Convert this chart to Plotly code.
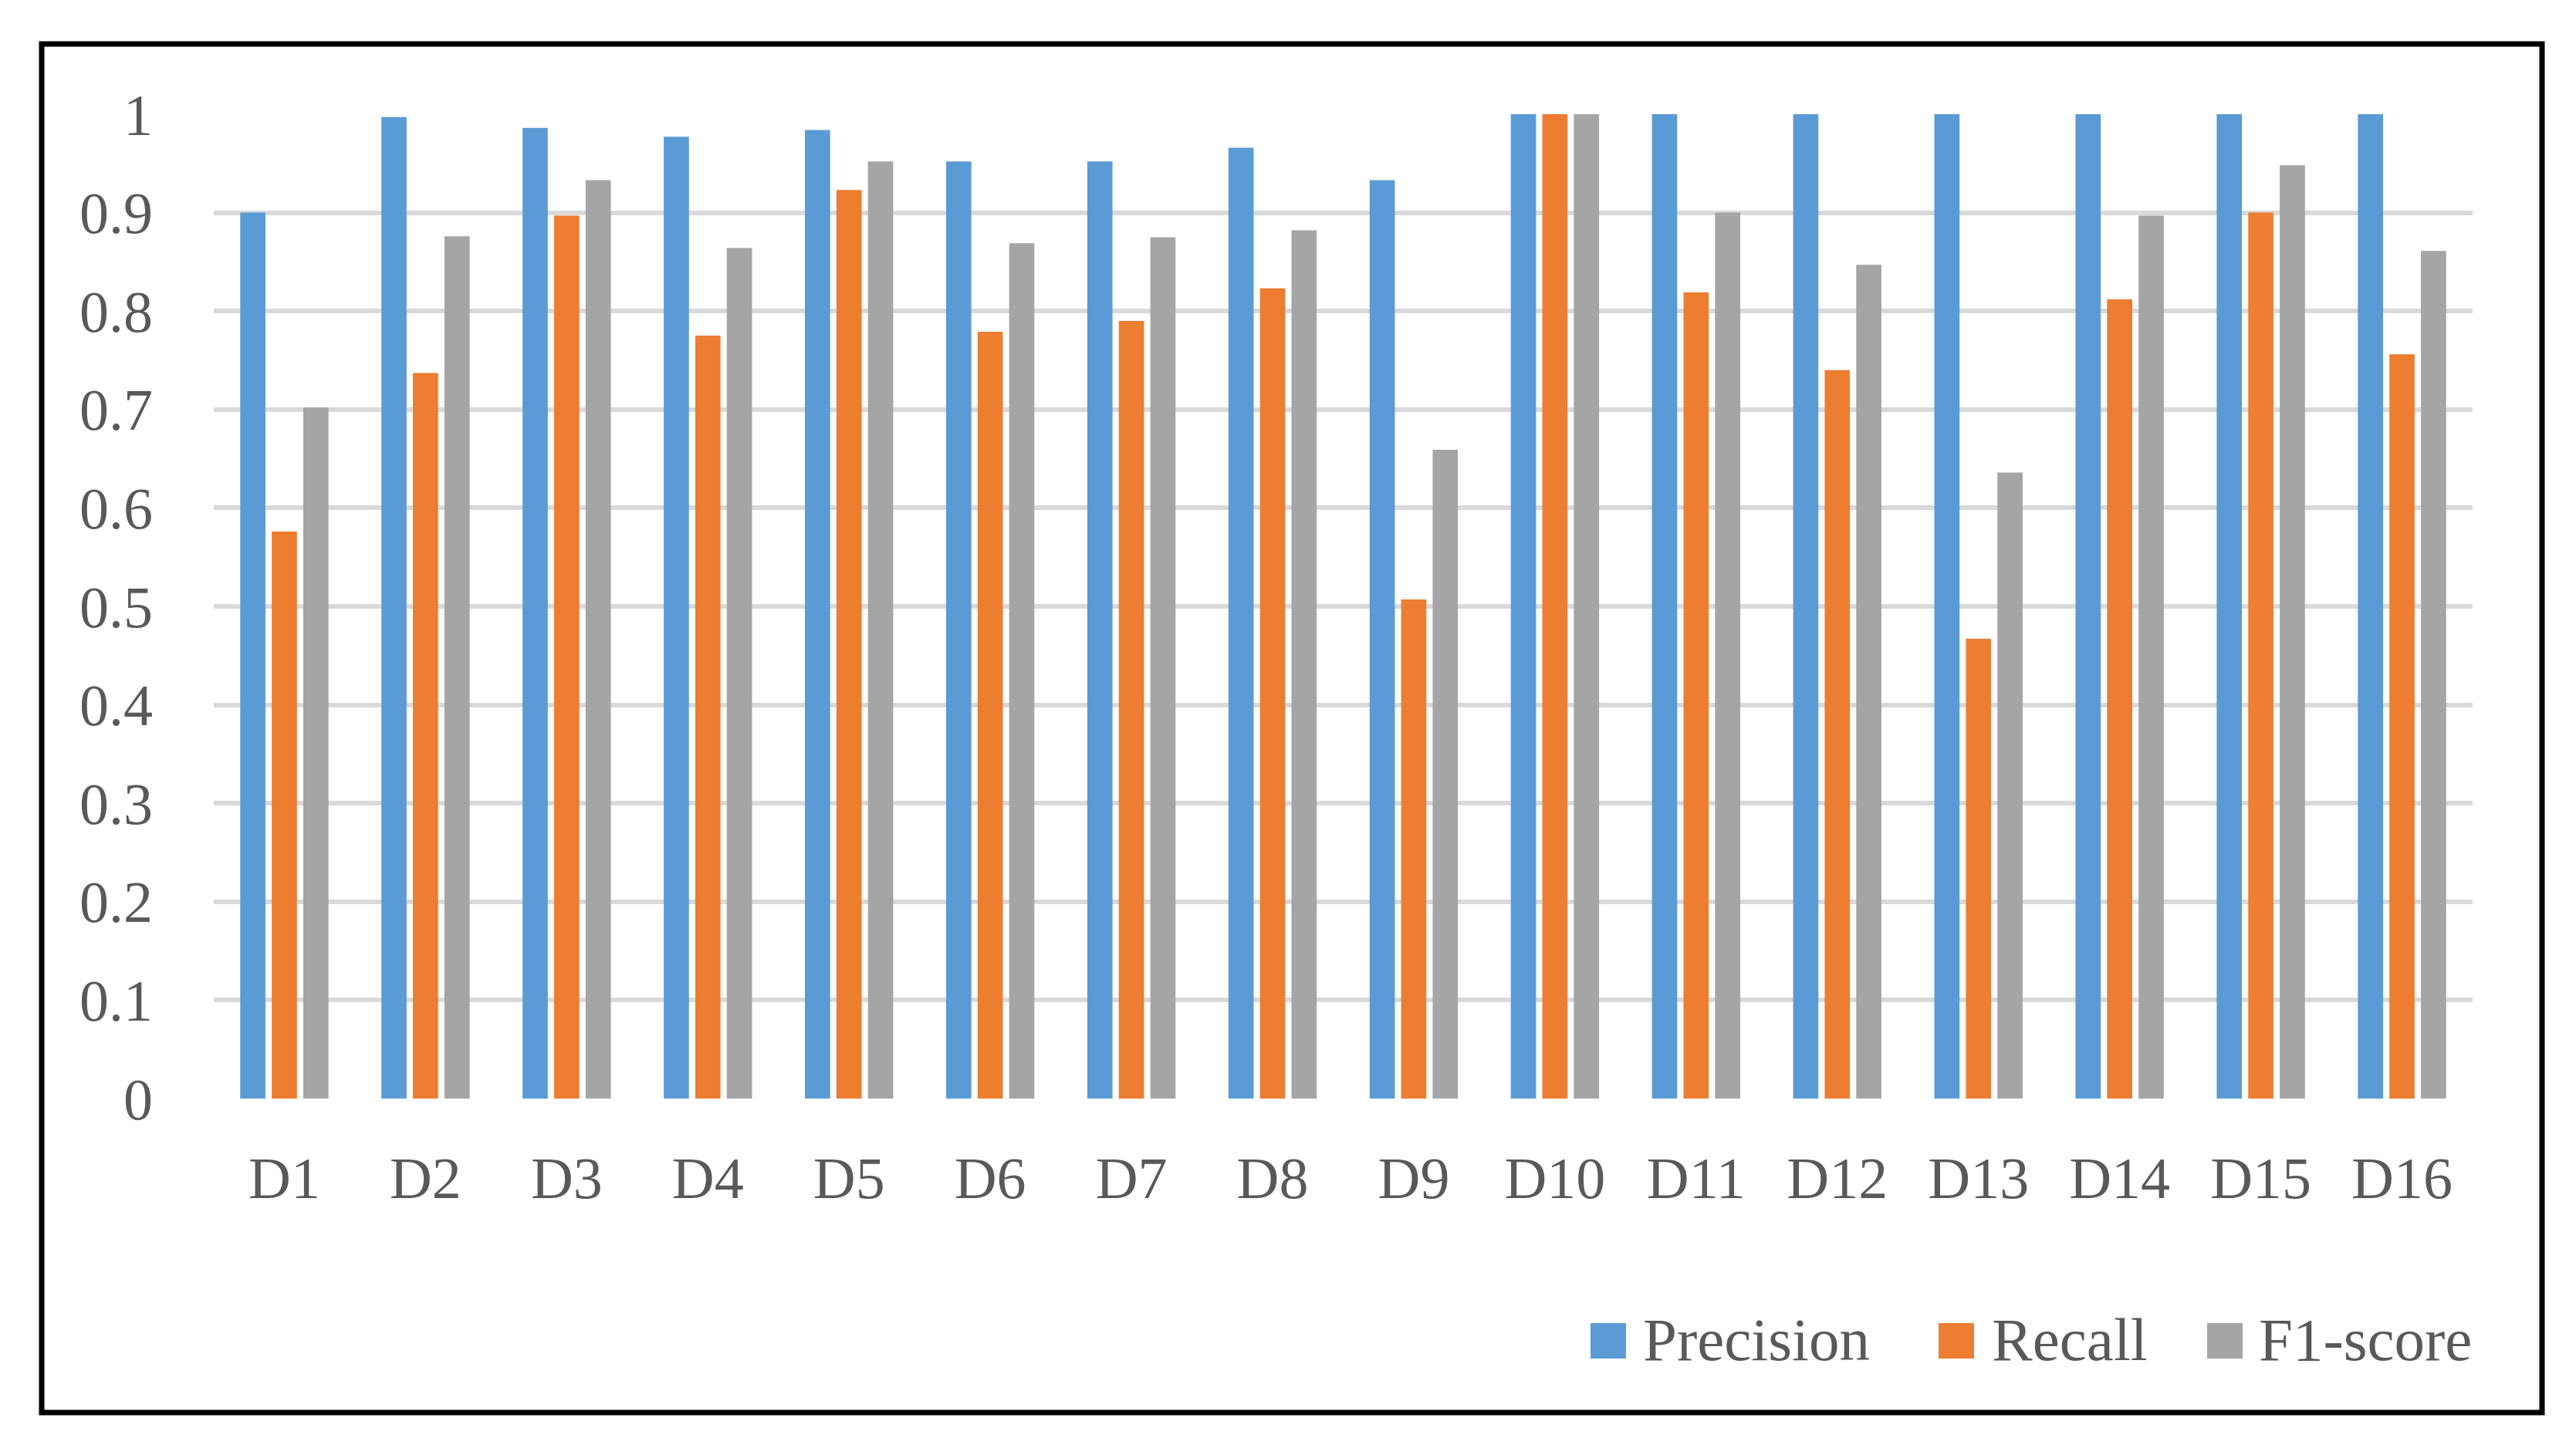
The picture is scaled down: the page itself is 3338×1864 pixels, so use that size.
import plotly.graph_objects as go

categories = ["D1", "D2", "D3", "D4", "D5", "D6", "D7", "D8",
              "D9", "D10", "D11", "D12", "D13", "D14", "D15", "D16"]
series_names = ["Precision", "Recall", "F1-score"]
precision = [0.900, 0.997, 0.986, 0.977, 0.984, 0.952, 0.952, 0.966,
             0.933, 1.000, 1.000, 1.000, 1.000, 1.000, 1.000, 1.000]
recall = [0.576, 0.737, 0.897, 0.775, 0.923, 0.779, 0.790, 0.823,
          0.507, 1.000, 0.819, 0.740, 0.467, 0.812, 0.900, 0.756]
f1_score = [0.702, 0.876, 0.933, 0.864, 0.952, 0.869, 0.875, 0.882,
            0.659, 1.000, 0.900, 0.847, 0.636, 0.897, 0.948, 0.861]
colors = ["#5B9BD5", "#ED7D31", "#A5A5A5"]

# page offset caused by the default body margin of the html page
OFF = 8
W, H = 3338 - 2 * OFF, 1864 - 2 * OFF
L, T = 277 - OFF, 148 - OFF
PW, PH = 2927, 1276
R, B = W - L - PW, H - T - PH

def px_x(p):
    return (p - OFF - L) / PW

def px_y(p):
    return (T + PH - (p - OFF)) / PH

FONT = "Liberation Serif"
TXT = "#595959"

fig = go.Figure()
for name, vals, col in zip(series_names, [precision, recall, f1_score], colors):
    fig.add_trace(go.Bar(name=name, x=categories, y=vals, marker=dict(color=col, line=dict(width=0)),
                         showlegend=False))

shapes = [dict(type="rect", xref="paper", yref="paper",
               x0=px_x(54), x1=px_x(3294), y0=px_y(1831), y1=px_y(57),
               line=dict(color="black", width=7), fillcolor="rgba(0,0,0,0)", layer="above")]
annotations = []
sw_left = [2061, 2512, 2860]
txt_left = [2127, 2579, 2925]
ly = 1738
for name, col, sx, tx in zip(series_names, colors, sw_left, txt_left):
    shapes.append(dict(type="rect", xref="paper", yref="paper",
                       x0=px_x(sx), x1=px_x(sx + 46), y0=px_y(ly + 23), y1=px_y(ly - 23),
                       line=dict(width=0), fillcolor=col))
    annotations.append(dict(text=name, xref="paper", yref="paper", x=px_x(tx), y=px_y(ly - 2),
                            xanchor="left", yanchor="middle", showarrow=False,
                            font=dict(family=FONT, size=79, color=TXT)))

fig.update_layout(
    width=W, height=H,
    margin=dict(l=L, r=R, t=T, b=B, autoexpand=False),
    paper_bgcolor="white", plot_bgcolor="white",
    barmode="group", bargap=0.33, bargroupgap=0.2,
    font=dict(family=FONT, size=76, color=TXT),
    shapes=shapes, annotations=annotations,
    showlegend=False,
)
fig.update_xaxes(showgrid=False, showline=False, ticks="", ticklabelstandoff=52,
                 tickfont=dict(family=FONT, size=76, color=TXT))
fig.update_yaxes(range=[0, 1], dtick=0.1, tick0=0, showgrid=True, gridcolor="#D9D9D9", gridwidth=6,
                 zeroline=False, showline=False, ticks="", ticklabelstandoff=78,
                 tickfont=dict(family=FONT, size=76, color=TXT))

fig.write_html("out.html")
